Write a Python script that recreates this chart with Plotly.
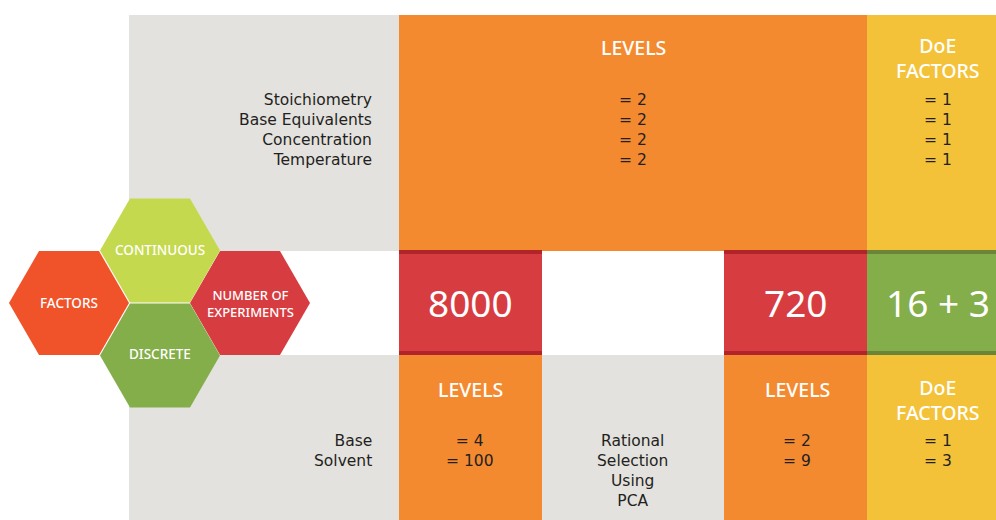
import plotly.graph_objects as go
import math

# ---- data ----
continuous_factors = ["Stoichiometry", "Base Equivalents", "Concentration", "Temperature"]
continuous_levels = ["= 2", "= 2", "= 2", "= 2"]
continuous_doe = ["= 1", "= 1", "= 1", "= 1"]

discrete_factors = ["Base", "Solvent"]
discrete_levels = ["= 4", "= 100"]
selection_text = ["Rational", "Selection", "Using", "PCA"]
discrete_selected_levels = ["= 2", "= 9"]
discrete_doe = ["= 1", "= 3"]

experiments_labels = ["8000", "720", "16 + 3"]
hex_labels = ["FACTORS", "CONTINUOUS", "DISCRETE", "NUMBER OF<br>EXPERIMENTS"]

# ---- styles ----
GRAY = "#E3E2DF"
ORANGE = "#F48A30"
YELLOW = "#F4C238"
RED = "#D73C41"
DARKRED = "#B0242A"
GREEN = "#84AE4A"
DARKGREEN = "#6C8438"
FONT = "DejaVu Sans"
HFONT = "Noto Sans"
TXT = "#231F20"

fig = go.Figure()
shapes = []

def rect(x0, x1, y0, y1, color):
    shapes.append(dict(type="rect", x0=x0, x1=x1, y0=y0, y1=y1, fillcolor=color,
                       line=dict(width=0), layer="below"))

# top band
rect(129, 399, 15, 251, GRAY)
rect(399, 867, 15, 251, ORANGE)
rect(867, 996, 15, 251, YELLOW)
# middle band
rect(399, 542, 250, 355, RED)
rect(724, 867, 250, 355, RED)
rect(867, 996, 250, 355, GREEN)
for (a, b, c) in [(399, 542, DARKRED), (724, 867, DARKRED), (867, 996, DARKGREEN)]:
    rect(a, b, 250, 254, c)
    rect(a, b, 351, 355, c)
# bottom band
rect(129, 399, 355, 520, GRAY)
rect(399, 542, 355, 520, ORANGE)
rect(542, 724, 355, 520, GRAY)
rect(724, 867, 355, 520, ORANGE)
rect(867, 996, 355, 520, YELLOW)

def hexagon(cx, cy, R, color):
    h = math.sqrt(3) / 2 * R
    pts = [(cx - R, cy), (cx - R / 2, cy - h), (cx + R / 2, cy - h),
           (cx + R, cy), (cx + R / 2, cy + h), (cx - R / 2, cy + h)]
    path = "M " + " L ".join(f"{x:.2f},{y:.2f}" for x, y in pts) + " Z"
    shapes.append(dict(type="path", path=path, fillcolor=color, line=dict(width=0), layer="above"))

hexagon(69, 303, 60, "#F0532A")
hexagon(250, 303, 60, RED)
hexagon(160, 250.5, 60, "#C5D94E")
hexagon(160, 355.5, 60, GREEN)

ann = []
def text(x, y, s, size=16, color=TXT, xanchor="center", weight=None, align="center", family=FONT):
    f = dict(family=family, size=size, color=color)
    if weight:
        f["weight"] = weight
    ann.append(dict(x=x, y=y, text=s, showarrow=False, xanchor=xanchor, yanchor="middle",
                    align=align, font=f, xref="x", yref="y"))

def block(x, y_first, lines, size, xanchor="center", align="center"):
    n = len(lines)
    step = 1.3 * size
    yc = y_first + step * (n - 1) / 2
    text(x, yc, "<br>".join(lines), size, xanchor=xanchor, align=align)

# headings
HS = 19.5
text(633, 47, "LEVELS", HS, "white", weight=500, family=HFONT)
text(938, 58, "DoE<br>FACTORS", HS, "white", weight=500, family=HFONT)
text(470, 389, "LEVELS", HS, "white", weight=500, family=HFONT)
text(797, 389, "LEVELS", HS, "white", weight=500, family=HFONT)
text(938, 400, "DoE<br>FACTORS", HS, "white", weight=500, family=HFONT)

BS = 15.5
# top rows
block(374, 100, continuous_factors, BS, xanchor="right", align="right")
block(633, 100, continuous_levels, BS)
block(938, 100, continuous_doe, BS)

# bottom rows
block(374, 441, discrete_factors, BS, xanchor="right", align="right")
block(470, 441, discrete_levels, BS)
block(797, 441, discrete_selected_levels, BS)
block(938, 441, discrete_doe, BS)
block(632, 441, selection_text, BS)

# experiment numbers
for x, s in zip([470, 796, 938], experiments_labels):
    text(x, 302, s, 37, "white", family=HFONT)

# hex labels
LS = 13.5
text(69, 303, hex_labels[0], LS, "white", weight=500, family=HFONT)
text(160, 250, hex_labels[1], LS, "white", weight=500, family=HFONT)
text(160, 354, hex_labels[2], LS, "white", weight=500, family=HFONT)
text(250, 303, hex_labels[3], 13, "white", weight=500, family=HFONT)

fig.update_layout(
    width=996, height=520,
    margin=dict(l=0, r=0, t=0, b=0),
    paper_bgcolor="white", plot_bgcolor="white",
    xaxis=dict(range=[0, 996], visible=False, fixedrange=True),
    yaxis=dict(range=[520, 0], visible=False, fixedrange=True),
    shapes=shapes, annotations=ann, showlegend=False,
)
fig.write_html("out.html", config={"displayModeBar": False},
               post_script="document.body.style.margin='0';document.body.style.overflow='hidden';")
